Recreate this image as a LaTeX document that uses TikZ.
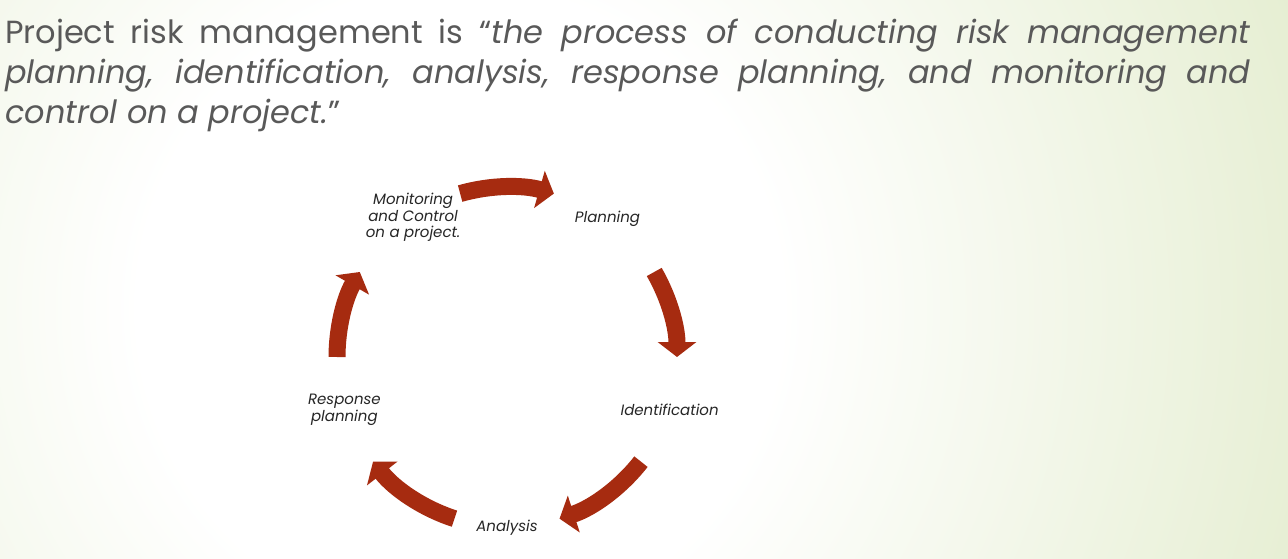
\documentclass[tikz,border=0pt]{standalone}
\usepackage{fontspec}
\setmainfont{Poppins}
\usetikzlibrary{arrows.meta}

\definecolor{slidegreen}{RGB}{216,229,186}
\definecolor{titlegray}{RGB}{89,89,89}
\definecolor{cyclered}{RGB}{166,43,16}
\pgfdeclareradialshading{slidebg}{\pgfpoint{0bp}{0bp}}{color(0bp)=(white); color(8bp)=(white); color(30bp)=(slidegreen); color(50bp)=(slidegreen)}

\tikzset{
  cyclearrow/.style={draw=cyclered, line width=17pt, -{Triangle[width=38pt,length=15pt]}},
  stage/.style={align=center, text=black!85, font=\fontsize{15}{16.5}\selectfont\itshape}
}

\begin{document}
\begin{tikzpicture}[x=1pt,y=1pt]
    % Background
    \useasboundingbox (0,0) rectangle (1288,558);
    \begin{scope}
      \clip (0,0) rectangle (1288,558);
      \shade[shading=slidebg] (460,250) circle (1000);
    \end{scope}

    % Definition
    \node[anchor=north west, inner sep=0pt, text width=1245pt, align=justify, text=titlegray, font=\fontsize{32}{40}\selectfont] (defn) at (5,539)
      {Project risk management is “\textit{the process of conducting risk management\linebreak planning, identification, analysis, response planning, and monitoring and\linebreak control on a project.}”};

    % Cycle
    \begin{scope}[shift={(507,201)}]
      \draw[cyclearrow] (106:170) arc (106:74:170);
      \draw[cyclearrow] (30:170) arc (30:0:170);
      \draw[cyclearrow] (-38:170) arc (-38:-72:170);
      \draw[cyclearrow] (-108:170) arc (-108:-142:170);
      \draw[cyclearrow] (180:170) arc (180:150:170);

      \node[stage] (plan) at (54:171) {Planning};
      \node[stage] (ident) at (-18:171) {Identification};
      \node[stage] (anal) at (-90:171) {Analysis};
      \node[stage] (resp) at (198:171) {Response\\planning};
      \node[stage] (monit) at (124:168) {Monitoring\\and Control\\on a project.};
    \end{scope}
  \end{tikzpicture}
\end{document}
